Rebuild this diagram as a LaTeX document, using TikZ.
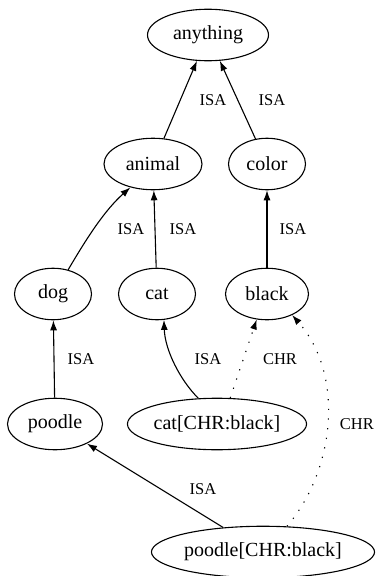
\documentclass[tikz,border=0pt]{standalone}
\usepackage{fontspec}
\setmainfont{Liberation Serif}
\usepackage{tikz}
\usetikzlibrary{shapes.geometric,arrows.meta}

\begin{document}
\begin{tikzpicture}[x=1pt,y=1pt]
            \tikzstyle{concept}=[ellipse,draw,line width=1.1pt,inner sep=0,minimum height=51.5,minimum width=77,font=\fontsize{20}{24}\selectfont];
            \tikzstyle{rel}=[font=\fontsize{16.5}{20}\selectfont,inner sep=0];
            \tikzstyle{isa}=[line width=1.1pt,-{Latex[length=10pt,width=7pt]}];
            \tikzstyle{chr}=[isa,dash pattern=on 1.2pt off 8.5pt];
            \useasboundingbox (0,0) rectangle (376,-576);
            % concepts
            \node[concept,minimum width=121] (anything) at (208,-35) {anything};
            \node[concept,minimum width=98] (animal) at (153,-164) {animal};
            \node[concept] (color) at (267,-164) {color};
            \node[concept] (dog) at (53,-294) {dog};
            \node[concept] (cat) at (157,-294) {cat};
            \node[concept,minimum width=83] (black) at (267,-294) {black};
            \node[concept,minimum width=95] (poodle) at (55,-424) {poodle};
            \node[concept,minimum width=179] (catblack) at (217,-424) {cat[CHR:black]};
            \node[concept,minimum width=220] (poodleblack) at (263,-552) {poodle[CHR:black]};
            % ISA links
            \foreach \a/\b in {animal/anything,color/anything,cat/animal,black/color,poodle/dog,poodleblack/poodle}
                \draw[isa] (\a) -- (\b);
            \draw[isa] (dog.58) .. controls (88,-236) and (105,-210) .. (animal.226);
            \draw[isa] (catblack.126) .. controls (180,-380) and (165,-350) .. (cat.-75);
            % CHR links
            \draw[chr] (catblack.63) .. controls (238,-375) and (248,-345) .. (black.-112);
            \draw[chr] (poodleblack.47) .. controls (335,-470) and (345,-375) .. (black.-40);
            % labels
            \node[rel] (l1) at (213,-100) {ISA};
            \node[rel] (l2) at (272,-100) {ISA};
            \node[rel] (l3) at (131,-229) {ISA};
            \node[rel] (l4) at (183,-229) {ISA};
            \node[rel] (l5) at (293,-229) {ISA};
            \node[rel] (l6) at (81,-359) {ISA};
            \node[rel] (l7) at (208,-359) {ISA};
            \node[rel] (l8) at (280,-359) {CHR};
            \node[rel,anchor=east] (l9) at (374,-424) {CHR};
            \node[rel] (l10) at (203,-489) {ISA};
            \end{tikzpicture}
\end{document}
